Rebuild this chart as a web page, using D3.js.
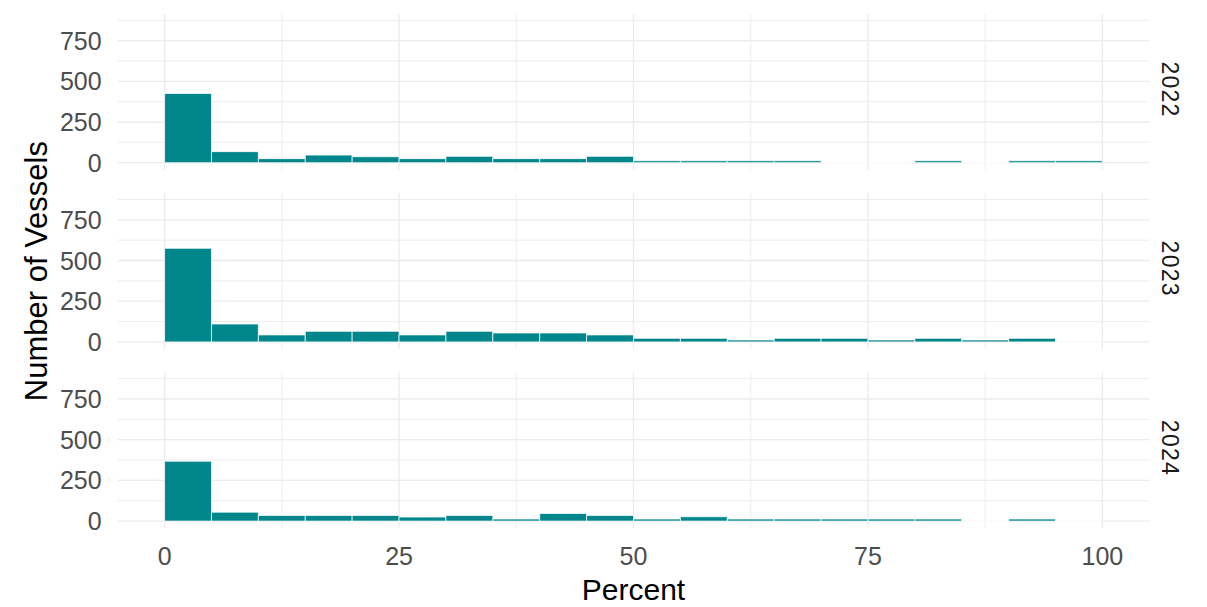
<!DOCTYPE html>
<html>
<head>
<meta charset="utf-8">
<script src="https://cdn.jsdelivr.net/npm/d3@7"></script>
<style>
  html, body { margin: 0; padding: 0; background: #fff; }
  svg { display: block; font-family: "Liberation Sans", Arial, sans-serif; }
</style>
</head>
<body>
<svg id="chart" width="1207" height="607"></svg>
<script>
// ---- data ----
const years = ["2022", "2023", "2024"];
const binStarts = [0, 5, 10, 15, 20, 25, 30, 35, 40, 45, 50, 55, 60, 65, 70, 75, 80, 85, 90, 95];
const binWidth = 5;
const counts2022 = [425, 68, 25, 47, 37, 25, 39, 25, 25, 39, 12, 12, 12, 12, 0, 0, 12, 0, 12, 12];
const counts2023 = [575, 110, 43, 65, 65, 43, 65, 55, 55, 43, 22, 22, 12, 22, 22, 12, 22, 12, 22, 0];
const counts2024 = [368, 55, 35, 35, 35, 25, 35, 13, 47, 35, 13, 27, 13, 13, 13, 13, 13, 0, 13, 0];
const xTicks = [0, 25, 50, 75, 100];
const xMinorTicks = [12.5, 37.5, 62.5, 87.5];
const yTicks = [0, 250, 500, 750];
const yMinorTicks = [125, 375, 625, 875];
const xLabel = "Percent";
const yLabel = "Number of Vessels";

const seriesByYear = [counts2022, counts2023, counts2024];

// ---- layout ----
const svg = d3.select("#chart");
const panelLeft = 117.7, panelRight = 1149.3;
const panelTop0 = 14.0, panelHeight = 155.8, panelStep = 179.2;
const yMaxData = 870;

const x = d3.scaleLinear().domain([-5, 105]).range([panelLeft, panelRight]);

const gridColor = "#EBEBEB";
const fillColor = "#00868B";

years.forEach((yr, i) => {
  const top = panelTop0 + i * panelStep;
  const bottom = top + panelHeight;
  const y = d3.scaleLinear()
    .domain([-0.05 * yMaxData, 1.05 * yMaxData])
    .range([bottom, top]);
  const g = svg.append("g");

  // minor grid
  g.selectAll(".hminor").data(yMinorTicks).join("line")
    .attr("x1", panelLeft).attr("x2", panelRight)
    .attr("y1", d => y(d)).attr("y2", d => y(d))
    .attr("stroke", gridColor).attr("stroke-width", 0.9);
  g.selectAll(".vminor").data(xMinorTicks).join("line")
    .attr("y1", top).attr("y2", bottom)
    .attr("x1", d => x(d)).attr("x2", d => x(d))
    .attr("stroke", gridColor).attr("stroke-width", 0.9);
  // major grid
  g.selectAll(".hmajor").data(yTicks).join("line")
    .attr("x1", panelLeft).attr("x2", panelRight)
    .attr("y1", d => y(d)).attr("y2", d => y(d))
    .attr("stroke", gridColor).attr("stroke-width", 1.3);
  g.selectAll(".vmajor").data(xTicks).join("line")
    .attr("y1", top).attr("y2", bottom)
    .attr("x1", d => x(d)).attr("x2", d => x(d))
    .attr("stroke", gridColor).attr("stroke-width", 1.3);

  // bars
  const counts = seriesByYear[i];
  g.selectAll(".bar").data(binStarts.map((b, j) => ({ b, c: counts[j] }))).join("path")
    .attr("d", d => {
      const x0 = x(d.b), x1 = x(d.b + binWidth), y0 = y(0), y1 = y(d.c);
      return `M${x0},${y0}H${x1}V${y1}H${x0}Z`;
    })
    .attr("fill", fillColor)
    .attr("stroke", "#ffffff")
    .attr("stroke-width", 0.75);

  // y tick labels
  g.selectAll(".ylab").data(yTicks).join("text")
    .attr("x", 101.7)
    .attr("y", d => y(d) + 9)
    .attr("text-anchor", "end")
    .attr("font-size", 25)
    .attr("fill", "#4D4D4D")
    .text(d => d);

  // strip label
  const cy = (top + bottom) / 2 - 3;
  g.append("text")
    .attr("transform", `translate(1162,${cy}) rotate(90)`)
    .attr("text-anchor", "middle")
    .attr("font-size", 23)
    .attr("textLength", 55)
    .attr("lengthAdjust", "spacing")
    .attr("fill", "#1A1A1A")
    .text(yr);
});

// x tick labels
svg.selectAll(".xlab").data(xTicks).join("text")
  .attr("x", d => x(d))
  .attr("y", 565)
  .attr("text-anchor", "middle")
  .attr("font-size", 25)
  .attr("fill", "#4D4D4D")
  .text(d => d);

// axis titles
svg.append("text")
  .attr("x", (panelLeft + panelRight) / 2)
  .attr("y", 600)
  .attr("text-anchor", "middle")
  .attr("font-size", 30)
  .attr("fill", "#000")
  .text(xLabel);

svg.append("text")
  .attr("transform", `translate(47,${(panelTop0 + 2 * panelStep + panelHeight + panelTop0) / 2}) rotate(-90)`)
  .attr("text-anchor", "middle")
  .attr("font-size", 31)
  .attr("fill", "#000")
  .text(yLabel);
</script>
</body>
</html>
